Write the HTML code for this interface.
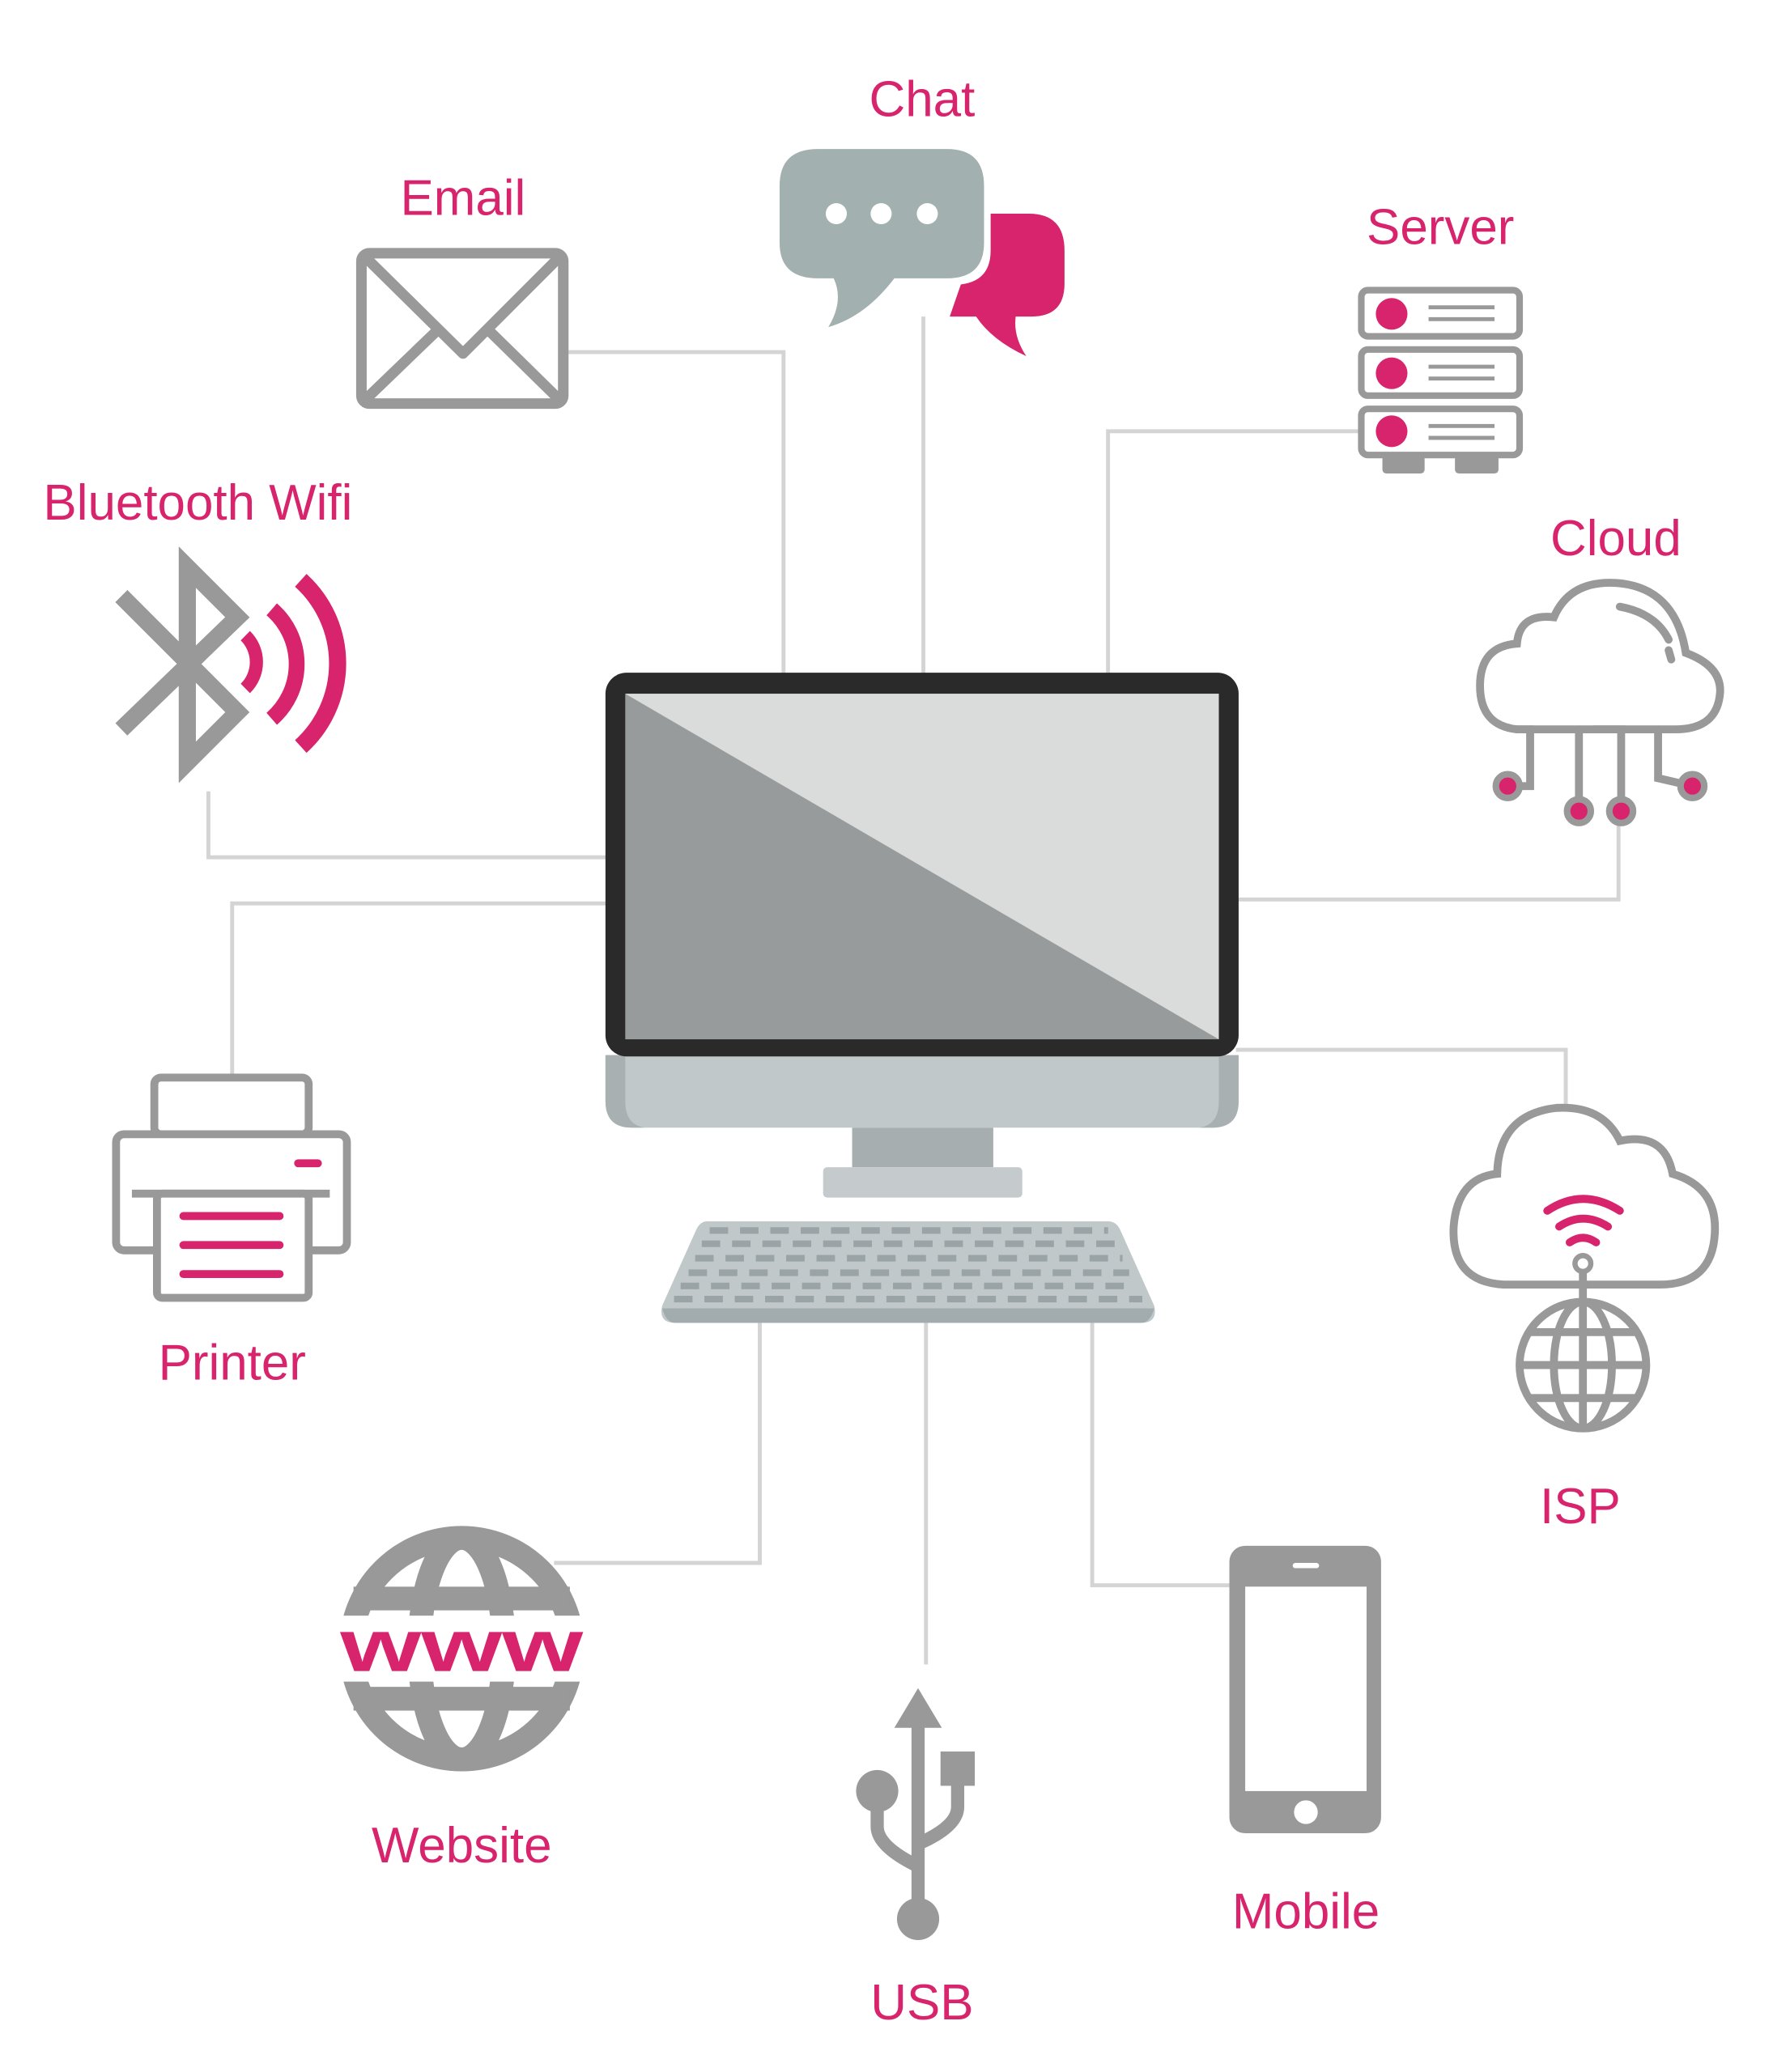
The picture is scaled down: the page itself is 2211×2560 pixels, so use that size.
<!DOCTYPE html>
<html><head><meta charset="utf-8"><style>
html,body{margin:0;padding:0;background:#fff;}
svg{display:block;}
text{font-family:"Liberation Sans",sans-serif;fill:#d8246c;font-size:38px;text-anchor:middle;}
</style></head><body>
<svg width="2211" height="2560" viewBox="0 0 1357 1571" preserveAspectRatio="none" xmlns="http://www.w3.org/2000/svg">
<rect width="1357" height="1571" fill="#fff"/>
<g stroke="#d4d4d4" stroke-width="3" fill="none">
<polyline points="430,267 594,267 594,512"/>
<polyline points="700,240 700,512"/>
<polyline points="1030,327 840,327 840,512"/>
<polyline points="158,600 158,650 461,650"/>
<polyline points="176,815 176,685 461,685"/>
<polyline points="937,682 1227,682 1227,625"/>
<polyline points="937,796 1187,796 1187,838"/>
<polyline points="420,1185 576,1185 576,1003"/>
<polyline points="702,1003 702,1262"/>
<polyline points="828,1003 828,1202 932,1202"/>
</g>
<path d="M459,800 H939 V835 Q939,855 919,855 H479 Q459,855 459,835 Z" fill="#c0c8ca"/>
<path d="M459,800 H474 V835 Q474,853 489,855 H479 Q459,855 459,835 Z" fill="#a8b0b2"/>
<path d="M924,800 H939 V835 Q939,855 919,855 H909 Q924,853 924,835 Z" fill="#a8b0b2"/>
<rect x="459" y="510" width="480" height="291" rx="16" fill="#2a2a2a"/>
<rect x="474" y="526" width="450" height="262" fill="#979b9b"/>
<polygon points="474,526 924,526 924,788" fill="#d9dcdb"/>
<rect x="646" y="855" width="107" height="30" fill="#a7aeb0"/>
<rect x="624" y="885" width="151" height="23" rx="3" fill="#c5cbcd"/>
<path d="M536,926 H840 Q846,926 849,932 L875,990 Q878,1003 865,1003 H512 Q499,1003 502,990 L528,932 Q531,926 536,926 Z" fill="#c0c8ca"/>
<path d="M502,992 Q505,1003 512,1003 H865 Q872,1003 875,992 Z" fill="#a2abae"/>
<g stroke="#9aa3a6" stroke-width="5" stroke-dasharray="14,9">
<line x1="538" y1="933" x2="840" y2="933"/>
<line x1="532" y1="943" x2="846" y2="943"/>
<line x1="527" y1="954" x2="851" y2="954"/>
<line x1="522" y1="965" x2="856" y2="965"/>
<line x1="516" y1="975" x2="861" y2="975"/>
<line x1="511" y1="985" x2="866" y2="985"/>
</g>
<text x="351" y="163">Email</text>
<text x="699" y="88">Chat</text>
<text x="1092" y="185">Server</text>
<text x="150" y="394">Bluetooth Wifi</text>
<text x="1225" y="421">Cloud</text>
<text x="176" y="1046">Printer</text>
<text x="1198" y="1155">ISP</text>
<text x="350" y="1412">Website</text>
<text x="699" y="1531">USB</text>
<text x="990" y="1462">Mobile</text>
<g stroke="#999" stroke-width="8" fill="none" stroke-linejoin="round">
<rect x="274" y="192" width="153" height="114" rx="6"/>
<polyline points="278,196 351,268 423,196"/>
<line x1="278" y1="302" x2="332" y2="250"/>
<line x1="423" y1="302" x2="370" y2="250"/>
</g>
<path d="M747,162 H780 Q807,162 807,190 V215 Q807,240 782,240 H770 Q768,255 778,270 Q752,258 740,240 H720 Z" fill="#d8246c"/>
<path d="M620,108 H722 Q751,108 751,137 V190 Q751,216 722,216 H680 Q655,245 622,253 Q636,230 628,216 H620 Q586,216 586,190 V137 Q586,108 620,108 Z" fill="#fff"/>
<path d="M620,113 H718 Q746,113 746,141 V184 Q746,211 718,211 H678 Q656,240 628,248 Q640,228 632,211 H620 Q591,211 591,184 V141 Q591,113 620,113 Z" fill="#a2b1b0"/>
<g fill="#fff"><circle cx="634" cy="162" r="8"/><circle cx="668" cy="162" r="8"/><circle cx="703" cy="162" r="8"/></g>
<g stroke="#999" stroke-width="5" fill="none">
<rect x="1032" y="220" width="120" height="35" rx="5"/>
<rect x="1032" y="265" width="120" height="35" rx="5"/>
<rect x="1032" y="310" width="120" height="35" rx="5"/>
<g stroke-width="3"><line x1="1083" y1="233" x2="1133" y2="233"/><line x1="1083" y1="242" x2="1133" y2="242"/>
<line x1="1083" y1="278" x2="1133" y2="278"/><line x1="1083" y1="287" x2="1133" y2="287"/>
<line x1="1083" y1="323" x2="1133" y2="323"/><line x1="1083" y1="332" x2="1133" y2="332"/></g>
</g>
<g fill="#d8246c"><circle cx="1055" cy="238" r="12"/><circle cx="1055" cy="283" r="12"/><circle cx="1055" cy="327" r="12"/></g>
<g fill="#999"><rect x="1048" y="345" width="32" height="14" rx="3"/><rect x="1103" y="345" width="33" height="14" rx="3"/></g>
<polyline points="92,452 180,540 142,578 142,430 180,468 92,553" stroke="#999" stroke-width="13" fill="none" stroke-linejoin="miter"/>
<g stroke="#d8246c" fill="none" stroke-linecap="butt">
<path d="M186,482 A28,28 0 0 1 186,522" stroke-width="10"/>
<path d="M206,462 A55,55 0 0 1 206,545" stroke-width="12"/>
<path d="M228,440 A85,85 0 0 1 228,566" stroke-width="13"/>
</g>
<g stroke="#999" stroke-width="6" fill="none" stroke-linecap="round">
<path d="M1150,553 Q1122,550 1122,520 Q1122,490 1150,488 Q1152,465 1178,468 Q1190,440 1225,442 Q1270,445 1278,495 Q1305,505 1304,525 Q1302,553 1270,553 Z"/>
<path d="M1228,460 Q1255,465 1265,485"/>
<line x1="1265" y1="493" x2="1267" y2="500"/>
<polyline points="1150,553 1160,553 1160,596 1143,596"/>
<polyline points="1197,553 1197,615"/>
<polyline points="1208,553 1229,553 1229,615"/>
<polyline points="1257,553 1257,590 1283,596"/>
</g>
<g fill="#d8246c" stroke="#999" stroke-width="5"><circle cx="1143" cy="596" r="9"/><circle cx="1197" cy="615" r="9"/><circle cx="1229" cy="615" r="9"/><circle cx="1283" cy="596" r="9"/></g>
<g stroke="#999" stroke-width="6" fill="none" stroke-linejoin="round">
<rect x="117" y="817" width="117" height="43" rx="5"/>
<rect x="88" y="860" width="175" height="88" rx="6" fill="#fff"/>
<line x1="100" y1="905" x2="250" y2="905"/>
<rect x="119" y="905" width="115" height="79" rx="4" fill="#fff"/>
</g>
<g stroke="#d8246c" stroke-width="6" stroke-linecap="round"><line x1="139" y1="922" x2="212" y2="922"/><line x1="139" y1="944" x2="212" y2="944"/><line x1="139" y1="966" x2="212" y2="966"/><line x1="226" y1="882" x2="241" y2="882"/></g>
<g stroke="#999" stroke-width="6" fill="none">
<path d="M1140,974 Q1100,972 1102,930 Q1105,893 1135,890 Q1136,845 1180,840 Q1215,838 1228,865 Q1262,858 1268,890 Q1302,900 1300,935 Q1298,974 1258,974 Z"/>
<line x1="1200" y1="958" x2="1200" y2="990"/>
<circle cx="1200" cy="1035" r="48"/>
<ellipse cx="1200" cy="1035" rx="22" ry="48"/>
<line x1="1200" y1="987" x2="1200" y2="1083"/>
<line x1="1152" y1="1035" x2="1248" y2="1035"/>
<line x1="1160" y1="1010" x2="1240" y2="1010"/>
<line x1="1160" y1="1060" x2="1240" y2="1060"/>
</g>
<g stroke="#d8246c" stroke-width="6" fill="none" stroke-linecap="round">
<path d="M1173,918 Q1200,900 1228,918"/>
<path d="M1182,930 Q1200,918 1219,930"/>
<path d="M1190,942 Q1200,935 1210,942"/>
</g>
<circle cx="1200" cy="958" r="6" fill="#fff" stroke="#999" stroke-width="4"/>
<g stroke="#999" stroke-width="18" fill="none">
<circle cx="350" cy="1250" r="84"/>
<ellipse cx="350" cy="1250" rx="32" ry="84"/>
<line x1="268" y1="1212" x2="432" y2="1212"/>
<line x1="268" y1="1288" x2="432" y2="1288"/>
</g>
<rect x="255" y="1225" width="190" height="50" fill="#fff"/>
<text x="350" y="1267" textLength="184" lengthAdjust="spacingAndGlyphs" style="font-size:56px;font-weight:bold">www</text>
<g stroke="#999" stroke-width="10" fill="none">
<line x1="696" y1="1305" x2="696" y2="1450"/>
<path d="M665,1360 V1385 Q665,1400 696,1415"/>
<path d="M726,1345 V1370 Q726,1385 696,1398"/>
</g>
<g fill="#999">
<polygon points="696,1280 678,1310 714,1310"/>
<circle cx="696" cy="1455" r="16"/>
<circle cx="665" cy="1358" r="16"/>
<rect x="713" y="1328" width="26" height="26"/>
</g>
<rect x="932" y="1172" width="115" height="218" rx="12" fill="#999"/>
<rect x="944" y="1203" width="92" height="155" fill="#fff"/>
<rect x="980" y="1185" width="20" height="4" rx="2" fill="#fff"/>
<circle cx="990" cy="1374" r="9" fill="#fff"/>
</svg>
</body></html>
